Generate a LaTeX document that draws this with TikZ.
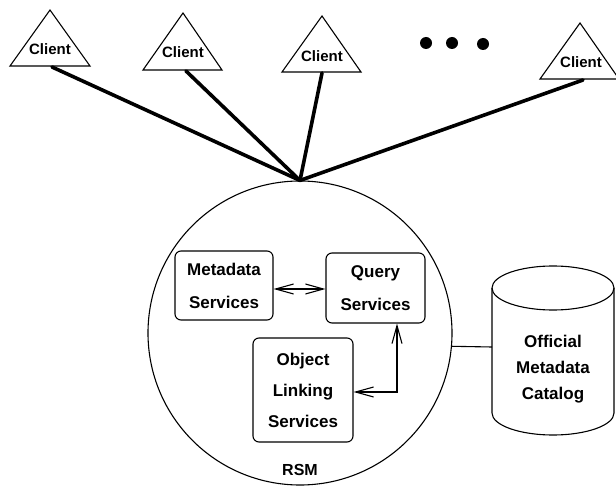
\documentclass[tikz,border=0pt]{standalone}
\usepackage{fontspec}
\setmainfont{Liberation Sans}
\usetikzlibrary{arrows.meta}

\tikzset{
  tri/.style={draw, line width=1.1pt, line join=miter},
  clienttext/.style={font=\fontsize{15}{17}\selectfont\bfseries, inner sep=0pt},
  link/.style={line width=3.6pt, line cap=round},
  svc/.style={draw, line width=1.1pt, rounded corners=6pt, align=center,
              inner sep=0pt, font=\fontsize{17}{33}\selectfont\bfseries},
  svcbarb/.tip={Straight Barb[length=18pt 0 0,width=10pt 0 0,line width=1.1pt]},
  biarrow/.style={line width=1.1pt, {svcbarb}-{svcbarb}},
  dot/.style={fill=black, circle, inner sep=0pt, minimum size=12pt},
}

\begin{document}
\begin{tikzpicture}[x=1pt, y=-1pt]
\useasboundingbox (0,0) rectangle (616,497);

% Clients (triangles with labels)
\draw[tri] (10,66) -- (50,10) -- (90,66) -- cycle;
\node[clienttext] (cl1) at (50,49) {Client};
\coordinate (b1) at (52,67);

\draw[tri] (143,70) -- (183,13) -- (222,70) -- cycle;
\node[clienttext] (cl2) at (183,52) {Client};
\coordinate (b2) at (186,71);

\draw[tri] (282,72) -- (322,16) -- (361,72) -- cycle;
\node[clienttext] (cl3) at (322,56) {Client};
\coordinate (b3) at (322,73);

\draw[tri] (540,79) -- (580,23) -- (619,79) -- cycle;
\node[clienttext] (cl5) at (581,62) {Client};
\coordinate (b5) at (583,80);

% ellipsis
\node[dot] (d1) at (426,43) {};
\node[dot] (d2) at (452,43) {};
\node[dot] (d3) at (483,44) {};

% RSM
\node[draw, circle, line width=1.1pt, minimum size=304pt, inner sep=0pt] (rsm) at (300,333) {};
\node[font=\fontsize{16}{18}\selectfont\bfseries] (rsmlabel) at (300,470) {RSM};

% client links to the RSM
\draw[link] (b1) -- (rsm.north);
\draw[link] (b2) -- (rsm.north);
\draw[link] (b3) -- (rsm.north);
\draw[link] (b5) -- (rsm.north);

% services inside the RSM
\node[svc, minimum width=98pt, minimum height=69pt] (md) at (224,285.5) {Metadata\\Services};
\node[svc, minimum width=99pt, minimum height=70pt] (qs) at (375.5,288) {Query\\Services};
\node[svc, minimum width=100pt, minimum height=104pt, font=\fontsize{17}{31}\selectfont\bfseries] (ol) at (303,390) {Object\\Linking\\Services};

\draw[biarrow] (md.east |- 0,289) -- (qs.west |- 0,289);
\draw[biarrow] ([xshift=21.5pt]qs.south) |- ([yshift=-2pt]ol.east);

% catalog cylinder
\draw[line width=1.1pt] (492,288) -- (492,413) arc[start angle=180, end angle=360, x radius=61, y radius=-22] -- (614,288);
\draw[line width=1.1pt] (553,288) ellipse[x radius=61, y radius=22];
\node[align=center, inner sep=0pt, font=\fontsize{17}{26}\selectfont\bfseries] (cat) at (553,369) {Official\\Metadata\\Catalog};
\coordinate (catL) at (492,347);
\draw[line width=1.1pt] (rsm.-5.3) -- (catL);
\end{tikzpicture}
\end{document}
